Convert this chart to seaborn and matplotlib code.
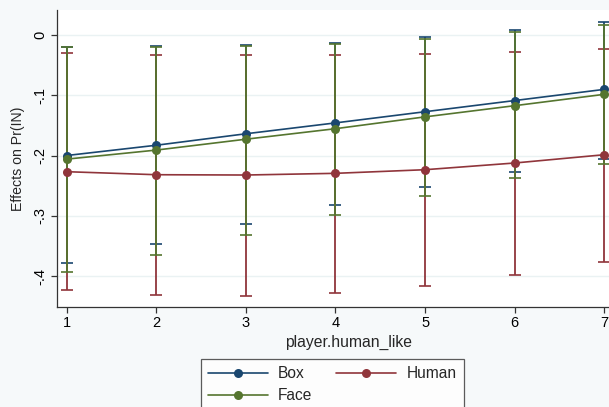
import numpy as np
import pandas as pd
import matplotlib
matplotlib.use("Agg")
import matplotlib.pyplot as plt
import seaborn as sns
from matplotlib.lines import Line2D

# ---- data ----
x_vals = [1, 2, 3, 4, 5, 6, 7]
series_names = ["Box", "Human", "Face"]

box_mean = [-0.200, -0.183, -0.164, -0.146, -0.1275, -0.109, -0.0905]
box_lo = [-0.3775, -0.3465, -0.314, -0.282, -0.252, -0.228, -0.206]
box_hi = [-0.020, -0.018, -0.0165, -0.0132, -0.0038, 0.0083, 0.0215]

human_mean = [-0.2268, -0.2318, -0.2323, -0.2295, -0.2235, -0.2124, -0.1987]
human_lo = [-0.4227, -0.4305, -0.4331, -0.428, -0.416, -0.398, -0.3758]
human_hi = [-0.031, -0.034, -0.0336, -0.033, -0.0314, -0.0286, -0.0232]

face_mean = [-0.206, -0.191, -0.173, -0.1556, -0.136, -0.1175, -0.0987]
face_lo = [-0.393, -0.3647, -0.3316, -0.2985, -0.2665, -0.238, -0.214]
face_hi = [-0.021, -0.020, -0.018, -0.0146, -0.0066, 0.004, 0.0155]

y_ticks = [-0.4, -0.3, -0.2, -0.1, 0.0]
y_ticklabels = ["-.4", "-.3", "-.2", "-.1", "0"]
x_label = "player.human_like"
y_label = "Effects on Pr(IN)"

colors = {"Box": "#1a476f", "Human": "#90353b", "Face": "#55752f"}

means = {"Box": box_mean, "Human": human_mean, "Face": face_mean}
los = {"Box": box_lo, "Human": human_lo, "Face": face_lo}
his = {"Box": box_hi, "Human": human_hi, "Face": face_hi}

rows = []
for s in series_names:
    for xv, m, lo, hi in zip(x_vals, means[s], los[s], his[s]):
        rows.append({"x": xv, "series": s, "y": m, "lo": lo, "hi": hi})
df = pd.DataFrame(rows)

sns.set_style("white")
plt.rcParams["font.family"] = ["Liberation Sans", "DejaVu Sans"]

W, H = 609, 407
fig = plt.figure(figsize=(W / 100, H / 100), dpi=100)
bg = "#f6f9fa"
fig.patch.set_facecolor(bg)

left_px, right_px, top_px, bot_px = 56.7, 640.0, 10.0, 306.7
ax = fig.add_axes([left_px / W, 1 - bot_px / H, (right_px - left_px) / W, (bot_px - top_px) / H])
ax.set_facecolor("white")

ppu = 89.6
ax.set_xlim(1 - (66.7 - left_px) / ppu, 1 + (right_px - 66.7) / ppu)
ax.set_ylim(-0.4503, 0.0409)

for yt in y_ticks:
    ax.axhline(yt, color="#eaf2f3", lw=1.0, zorder=0)

# confidence intervals (drawn first)
for s in series_names:
    sub = df[df.series == s]
    ax.errorbar(sub.x, sub.y, yerr=[sub.y - sub.lo, sub.hi - sub.y], fmt="none",
                ecolor=colors[s], elinewidth=1.3, capsize=4.2, capthick=1.2, zorder=2)

# lines with markers
sns.lineplot(data=df, x="x", y="y", hue="series",
             hue_order=series_names, palette=colors, marker="o", markersize=6.5,
             markeredgewidth=0, linewidth=1.2, ax=ax, legend=False, zorder=3,
             errorbar=None)

ax.set_xticks(x_vals)
ax.set_xticklabels([str(v) for v in x_vals], fontsize=10.5)
ax.set_yticks(y_ticks)
ax.set_yticklabels(y_ticklabels, fontsize=10.5, rotation=90, va="center")
ax.tick_params(axis="both", direction="out", length=4, width=0.9, color="#333333",
               labelcolor="black", pad=3, left=True, bottom=True)
ax.set_xlabel(x_label, fontsize=11.3, labelpad=3)
ax.set_ylabel(y_label, fontsize=10.2, labelpad=6)

for side in ["top", "right"]:
    ax.spines[side].set_visible(False)
for side in ["left", "bottom"]:
    ax.spines[side].set_color("#333333")
    ax.spines[side].set_linewidth(0.9)

handles = [Line2D([], [], color=colors[s], lw=1.2, marker="o", markersize=6.5,
                  markeredgewidth=0) for s in ["Box", "Face", "Human"]]
leg = fig.legend(handles, ["Box", "Face", "Human"], ncol=2,
                 loc="upper left", bbox_to_anchor=(201 / W, 1 - 359 / H),
                 frameon=True, fancybox=False, edgecolor="#333333",
                 facecolor="white", fontsize=11.2, handlelength=3.85,
                 handletextpad=0.65, columnspacing=1.55, labelspacing=0.45,
                 borderpad=0.45, borderaxespad=0)
leg.get_frame().set_linewidth(0.9)

fig.savefig("out.png", dpi=100, facecolor=bg)
